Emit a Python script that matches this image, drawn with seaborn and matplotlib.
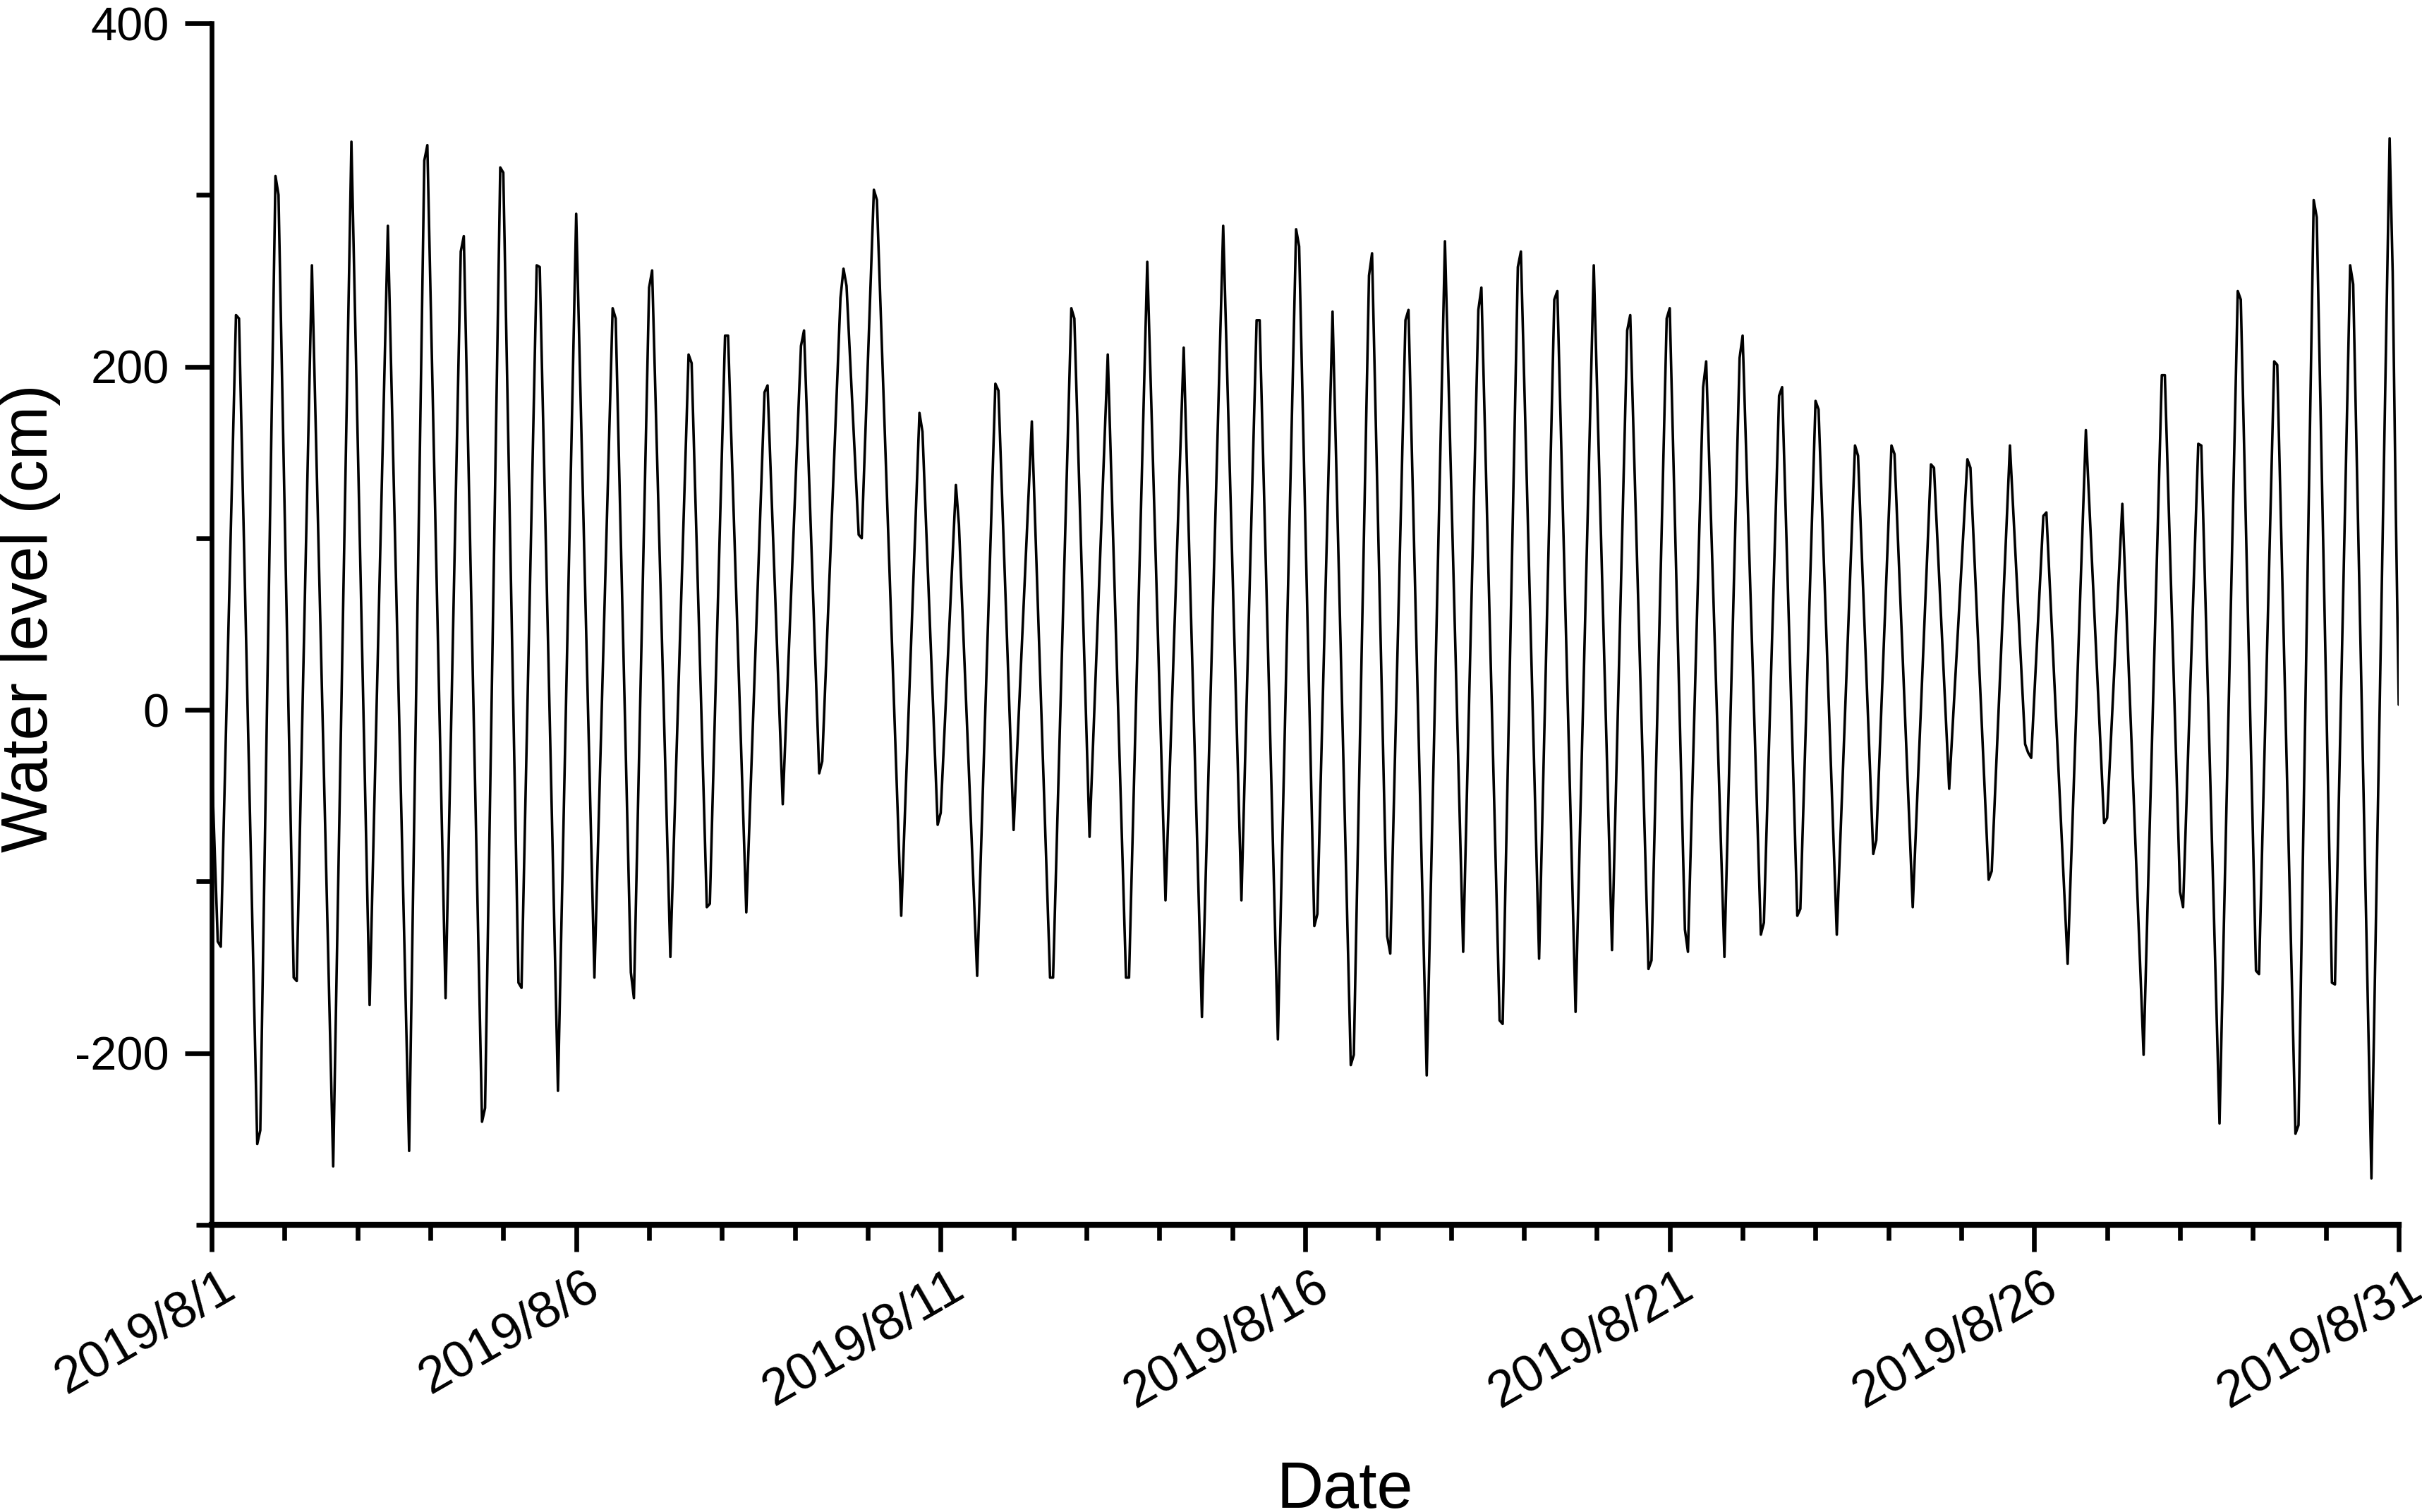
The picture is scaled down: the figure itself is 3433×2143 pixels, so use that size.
import pandas as pd
import numpy as np
import matplotlib
matplotlib.use('Agg')
import matplotlib.pyplot as plt
import matplotlib.dates as mdates
import matplotlib.ticker as mticker
import matplotlib.transforms as mtransforms
import seaborn as sns


# hourly water level, turning points (hours since 2019/8/1 00:00)
start = '2019-08-01 00:00'
hours = [0, 2, 3, 8, 9, 15, 16, 21, 22, 27, 28, 33, 40, 46, 52, 58, 65, 70, 71, 77,
         82, 83, 89, 90, 95, 96, 101, 102, 107, 108, 114, 120, 126, 132, 133, 138, 139, 144, 145, 151,
         157, 158, 163, 164, 169, 170, 176, 182, 183, 188, 194, 195, 200, 201, 207, 208, 209, 213, 214, 218,
         219, 227, 233, 234, 239, 240, 245, 246, 252, 258, 259, 264, 270, 276, 277, 283, 284, 289, 295, 301,
         302, 308, 314, 320, 326, 333, 339, 344, 345, 351, 357, 358, 363, 364, 369, 375, 376, 381, 382, 387,
         388, 393, 394, 400, 406, 412, 417, 418, 424, 425, 430, 431, 437, 442, 443, 449, 455, 461, 466, 467,
         473, 474, 479, 480, 485, 486, 491, 492, 498, 503, 504, 510, 511, 516, 517, 522, 523, 528, 529, 535,
         541, 542, 547, 548, 553, 554, 560, 566, 567, 572, 578, 579, 585, 586, 592, 597, 598, 599, 603, 604,
         611, 617, 623, 624, 629, 636, 642, 643, 648, 649, 654, 655, 661, 667, 668, 673, 674, 679, 680, 686,
         687, 692, 693, 698, 699, 704, 705, 711, 717, 718, 719, 720]
level = [-30, -135, -138, 230, 228, -253, -245, 311, 300, -156, -158, 259, -266, 331, -172, 282, -257, 320, 329, -168,
         267, 276, -240, -232, 316, 313, -159, -162, 259, 258, -222, 289, -156, 234, 228, -153, -168, 246, 256, -144,
         207, 202, -115, -113, 218, 218, -118, 185, 189, -55, 212, 221, -37, -30, 240, 257, 247, 102, 100, 303,
         297, -120, 173, 162, -67, -60, 131, 108, -155, 190, 186, -70, 168, -156, -156, 234, 228, -74, 207, -156,
         -156, 261, -111, 211, -179, 282, -111, 227, 227, -192, 280, 270, -126, -119, 232, -207, -201, 253, 266, -132,
         -142, 227, 233, -213, 273, -141, 233, 246, -181, -183, 258, 267, -145, 239, 244, -176, 259, -140, 221, 230,
         -151, -146, 228, 234, -128, -141, 188, 203, -144, 205, 218, -131, -124, 183, 188, -120, -116, 180, 175, -131,
         154, 148, -84, -76, 154, 149, -115, 143, 141, -46, 146, 141, -99, -94, 154, -20, -25, -28, 113, 115,
         -148, 163, -66, -63, 120, -201, 195, 195, -106, -115, 155, 154, -241, 244, 239, -152, -154, 203, 201, -247,
         -242, 297, 287, -159, -160, 259, 248, -273, 333, 255, 120, 3]

df = pd.DataFrame({'time': pd.Timestamp(start) + pd.to_timedelta(hours, unit='h'),
                   'level': level})

sns.set_style('ticks', {'axes.edgecolor': 'black', 'xtick.color': 'black',
                        'ytick.color': 'black', 'text.color': 'black',
                        'axes.labelcolor': 'black'})
plt.rcParams['font.family'] = ['Liberation Sans', 'DejaVu Sans']
plt.rcParams['axes.unicode_minus'] = False

fig = plt.figure(figsize=(17.165, 10.715), dpi=200)
ax = fig.add_axes([0.0874, 0.19, 0.903, 0.7946])
sns.lineplot(data=df, x='time', y='level', color='black', lw=1.3, ax=ax)

ax.set_xlim(pd.Timestamp('2019-08-01'), pd.Timestamp('2019-08-31'))
ax.set_ylim(-300, 400)
ax.xaxis.set_major_locator(mdates.DayLocator(bymonthday=[1, 6, 11, 16, 21, 26, 31]))
ax.xaxis.set_minor_locator(mdates.DayLocator())


def date_fmt(x, pos):
    d = mdates.num2date(x)
    return f'{d.year}/{d.month}/{d.day}'


ax.xaxis.set_major_formatter(mticker.FuncFormatter(date_fmt))
ax.yaxis.set_major_locator(mticker.MultipleLocator(200))
ax.yaxis.set_minor_locator(mticker.MultipleLocator(100))

sns.despine(ax=ax)
ax.spines['left'].set_linewidth(2.4)
ax.spines['bottom'].set_linewidth(3.0)

ax.tick_params(axis='both', which='major', length=13.7, width=2.4, direction='out', labelsize=24)
ax.tick_params(axis='both', which='minor', length=8, width=2.4, direction='out')
ax.tick_params(axis='y', which='major', pad=8)
ax.tick_params(axis='x', which='major', pad=6, labelsize=26)

offset = mtransforms.ScaledTranslation(4 / 72, 0, fig.dpi_scale_trans)
for lbl in ax.get_xticklabels():
    lbl.set_rotation(30)
    lbl.set_ha('right')
    lbl.set_va('top')
    lbl.set_rotation_mode('anchor')
    lbl.set_transform(lbl.get_transform() + offset)

ax.set_xlabel('Date', fontsize=33)
ax.set_ylabel('Water level (cm)', fontsize=33)
ax.xaxis.set_label_coords(0.518, -0.196)
ax.yaxis.set_label_coords(-0.069, 0.505)

fig.savefig('out.png', dpi=200)
